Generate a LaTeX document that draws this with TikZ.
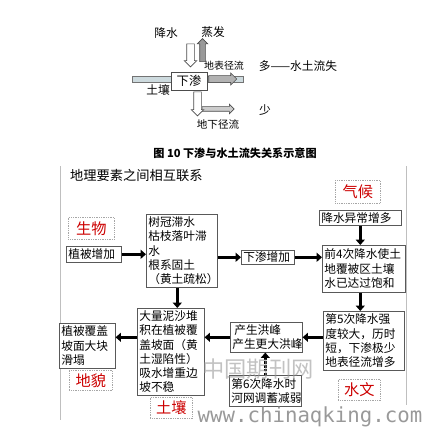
\documentclass[tikz,border=0pt]{standalone}
\usepackage{fontspec}
\setmainfont{Noto Sans CJK SC}
\newfontfamily\wmfont{DejaVu Sans Mono}
\usetikzlibrary{arrows.meta,shapes.arrows,calc}
\newdimen\pxu \pxu=0.03cm

\begin{document}
\begin{tikzpicture}[
    x=0.03cm, y=-0.03cm,
    every node/.style={inner sep=0pt, font=\fontsize{10}{12.2}\selectfont}, % General node style
    plainbox/.style={draw=black!65, line width=0.5pt, fill=white, align=left, anchor=north west, inner xsep=2\pxu}, % text boxes
    bx/.style 2 args={text width=#1\pxu, minimum height=#2\pxu},
    tagbox/.style 2 args={draw=black!35, densely dotted, line width=0.5pt, text=red!80!black, font=\fontsize{13}{15}\selectfont, anchor=north west, minimum width=#1\pxu, minimum height=#2\pxu}, % red labels
    link/.style={line width=2.6pt, -{Triangle[length=4.5pt,width=7.5pt]}}, % thick arrows
    blockarrow/.style={single arrow, draw=black!70, line width=0.5pt, inner xsep=0pt, single arrow head extend=2.5\pxu}, % top sketch
    toplabel/.style={font=\fontsize{10}{12}\selectfont}
]
\useasboundingbox (0,0) rectangle (422,429);

% top sketch
\draw[fill={rgb,255:red,205;green,218;blue,222}, draw=black!55, line width=0.5pt] (132,76) rectangle (243,82);
\node[blockarrow, fill=white, rotate=-90, minimum height=23\pxu, minimum width=12\pxu, inner ysep=3.5\pxu] (rainarr) at (190.5,53.5) {};
\node[blockarrow, fill=black!40, rotate=90, minimum height=23\pxu, minimum width=10\pxu, inner ysep=2.5\pxu] (evaparr) at (202.5,51.5) {};
\node[blockarrow, fill=black!30, minimum height=28\pxu, minimum width=12\pxu, inner ysep=3\pxu] (surfarr) at (221,79) {};
\node[blockarrow, fill=black!20, minimum height=32\pxu, minimum width=9\pxu, inner ysep=2\pxu] (gndarr) at (217,109) {};
\node[blockarrow, fill=white, rotate=-90, minimum height=24\pxu, minimum width=11\pxu, inner ysep=3.5\pxu] (downarr) at (197.5,102) {};
\node[draw=black!70, fill=white, line width=0.5pt, minimum width=36\pxu, minimum height=18\pxu, font=\fontsize{10.5}{12}\selectfont] (seep) at (189,81) {下渗};
\node[toplabel] (rain) at (166,33) {降水};
\node[toplabel] (evap) at (213,32) {蒸发};
\node[font=\fontsize{8.5}{10}\selectfont] (surf) at (224,66) {地表径流};
\node[toplabel] (more) at (298,66) {多——水土流失};
\node[toplabel] (less) at (265,110) {少};
\node[font=\fontsize{9}{10}\selectfont] (gnd) at (218,124) {地下径流};
\node[toplabel] (soiltop) at (158,90) {土壤};
\node[font=\bfseries\fontsize{9.5}{11}\selectfont] (caption) at (235,153) {图 10 下渗与水土流失关系示意图};

% frame of the lower chart
\draw[black!25, line width=0.8pt] (60,166) -- (60,420);
\draw[black!25, line width=0.8pt] (406,166) -- (406,405);
\node[anchor=west, font=\fontsize{11.3}{13}\selectfont] (title) at (70,175) {地理要素之间相互联系};

% labels
\node[tagbox={46}{22}] (bio) at (68,217) {生物};
\node[tagbox={45}{23}] (clim) at (335,180) {气候};
\node[tagbox={42}{21}] (hydro) at (338,379) {水文};
\node[tagbox={42}{21}] (soil) at (150,397) {土壤};
\node[tagbox={43}{20}] (landf) at (69,370) {地貌};

% boxes
\node[plainbox, bx={51}{16}] (veg) at (66,246) {植被增加};
\node[plainbox, bx={67}{73}] (canopy) at (146,214) {树冠滞水\\枯枝落叶滞\\水\\根系固土\\（黄土疏松）};
\node[plainbox, bx={49}{14}] (infil) at (241,250) {下渗增加};
\node[plainbox, bx={78}{15}] (rainmore) at (319,210) {降水异常增多};
\node[plainbox, bx={79}{47}] (sat) at (322,245) {前4次降水使土\\地覆被区土壤\\水已达过饱和};
\node[plainbox, bx={77}{59}] (fifth) at (323,311) {第5次降水强\\度较大，历时\\短，下渗极少\\地表径流增多};
\node[plainbox, bx={68}{30}] (flood) at (230,322) {\hspace{2\pxu}产生洪峰\\产生更大洪峰};
\node[plainbox, bx={68}{31}] (sixth) at (229,375) {第6次降水时\\河网调蓄减弱};
\node[plainbox, bx={63}{87}] (silt) at (137,308) {大量泥沙堆\\积在植被覆\\盖坡面（黄\\土湿陷性）\\吸水增重边\\坡不稳};
\node[plainbox, bx={52}{45}] (slide) at (59,323) {植被覆盖\\坡面大块\\滑塌};

% arrows
\draw[link] (veg) -- (veg -| canopy.west);
\draw[link] (canopy.east |- infil) -- (infil);
\draw[link] (infil) -- (infil -| sat.west);
\draw[link] (rainmore) -- (rainmore |- sat.north);
\draw[link] (rainmore |- sat.south) -- (rainmore |- fifth.north);
\draw[link] (fifth.west |- flood) -- (flood);
\draw[link] (flood) -- (flood -| silt.east);
\draw[link] (silt.west |- flood) -- (slide.east |- flood);
\draw[link] ([xshift=-4.5\pxu]canopy.south) -- ([xshift=-4.5\pxu]canopy.south |- silt.north);
\draw[link, dash pattern=on 2pt off 1.2pt] (sixth) -- (sixth |- flood.south);

% watermark
\node[text=black!40, opacity=0.6, font=\fontsize{19}{20}\selectfont] (wmcn) at (258,369) {中国期刊网};
\node[text=black!50, opacity=0.8, font=\wmfont\fontsize{17.7}{18}\selectfont] (wmurl) at (310,417) {www.chinaqking.com};
\end{tikzpicture}
\end{document}
